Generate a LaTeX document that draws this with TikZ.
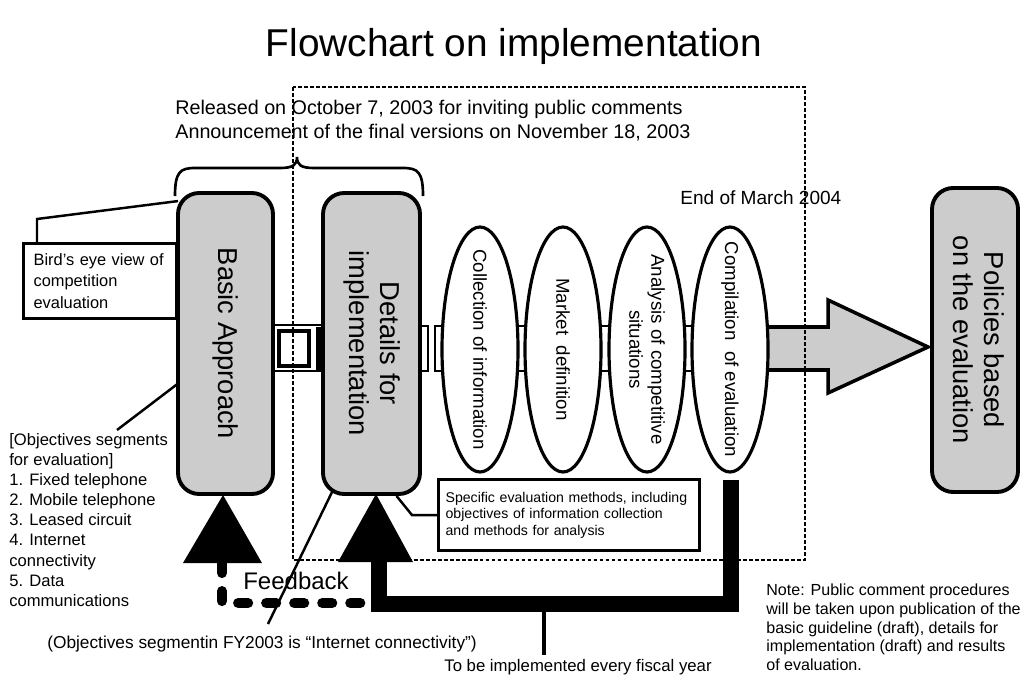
\documentclass[tikz,border=0pt]{standalone}
\usepackage{fontspec}
\setmainfont{Liberation Sans}
\usetikzlibrary{shapes.geometric,calc}
\def\pu{0.567pt}
\tikzset{
  bigbox/.style={draw, line width=2.2pt, rounded corners=12pt, fill=black!20, inner sep=0pt},
  ell/.style={ellipse, draw, line width=1.8pt, fill=white, minimum width=76*\pu, minimum height=245*\pu, inner sep=0pt},
  elltext/.style={rotate=-90, inner sep=0pt, align=center, font=\fontsize{10.6}{12.5}\selectfont},
  linkbox/.style={draw, line width=1.6pt, fill=white},
  dotbox/.style={line width=1.5pt, dash pattern=on 2.2pt off 1.2pt},
  thinline/.style={line width=1.4pt},
  notebox/.style={draw, line width=1.8pt, fill=white, align=left, anchor=north west},
  fbblack/.style={line width=8.8pt, line join=miter},
  fbdash/.style={line width=5.7pt, line cap=round, dash pattern=on 5.7pt off 10.2pt},
  bigarrow/.style={draw, line width=2pt, fill=black!20, line join=miter},
  plain/.style={inner sep=0pt},
}
\begin{document}
\begin{tikzpicture}[x=0.567pt,y=-0.567pt]
\useasboundingbox (0,0) rectangle (1027,676);

\node[plain, anchor=base, font=\fontsize{22}{26}\selectfont] (title) at (514,57) {Flowchart on implementation};

\node[plain, anchor=base west, font=\fontsize{11.2}{13}\selectfont] (rel1) at (175,115) {Released on October 7, 2003 for inviting public comments};
\node[plain, anchor=base west, font=\fontsize{11.2}{13}\selectfont] (rel2) at (175,138) {Announcement of the final versions on November 18, 2003};
\node[plain, anchor=base west, font=\fontsize{10.8}{13}\selectfont] (eom) at (680,204) {End of March 2004};

% big arrow towards policies
\draw[bigarrow] (740,327) -- (828,327) -- (828,300) -- (928,347) -- (828,393) -- (828,370) -- (740,370) -- cycle;

% link rectangles
\draw[line width=0.8pt, fill=white] (273,325) rectangle (322,371);
\draw[line width=1.8pt] (279,331) rectangle (309,366);
\fill (316,327) rectangle (335,370);
\draw[linkbox] (400,326) rectangle (428,371);
\draw[linkbox] (435,326) rectangle (480,371);
\draw[linkbox] (480,326) rectangle (563,371);
\draw[linkbox] (563,326) rectangle (647,371);
\draw[linkbox] (647,326) rectangle (730,371);

% dotted frame
\draw[dotbox] (293,87) rectangle (805,560);

% brace
\draw[line width=1.5pt] (175,196) .. controls (175,172) and (180,168) .. (195,168) -- (280,168) .. controls (293,168) and (297,165) .. (297,157) .. controls (297,165) and (301,168) .. (314,168) -- (403,168) .. controls (418,168) and (423,172) .. (423,196);

% main boxes
\node[bigbox, minimum width=95*\pu, minimum height=301*\pu, font=\fontsize{15.5}{17.5}\selectfont] (basic) at (225.5,343.5) {\rotatebox{-90}{Basic Approach}};
\node[bigbox, minimum width=97*\pu, minimum height=301*\pu, font=\fontsize{15.5}{17.5}\selectfont] (details) at (371.5,343.5) {\rotatebox{-90}{\begin{tabular}{@{}c@{}}Details for\\implementation\end{tabular}}};
\node[bigbox, minimum width=86*\pu, minimum height=304*\pu, font=\fontsize{15.5}{17.5}\selectfont] (pol) at (975,340) {\rotatebox{-90}{\begin{tabular}{@{}c@{}}Policies based\\on the evaluation\end{tabular}}};

% ellipses
\node[ell] (e1) at (480,349.5) {};
\node[ell] (e2) at (563,349.5) {};
\node[ell] (e3) at (647,349.5) {};
\node[ell] (e4) at (730,349.5) {};
\node[elltext] (t1) at (e1) {Collection of information};
\node[elltext] (t2) at (e2) {Market\ \ definition};
\node[elltext] (t3) at (e3) {Analysis of competitive\\situations};
\node[elltext] (t4) at (e4) {Compilation\ \ of evaluation};

% triangles
\fill (223,495) -- (262,563) -- (183,563) -- cycle;
\fill (376,494) -- (413,562) -- (338,562) -- cycle;

% feedback paths
\draw[fbblack] ($(e4.south)+(1,6)$) -- (731,604) -- (379,604) -- (379,560);
\draw[fbdash] (222,563) -- (222,603) -- (370,603);
\node[plain, font=\fontsize{13.6}{16}\selectfont] (fbk) at (296,581) {Feedback};

% bird's eye box
\node[notebox, text width=133*\pu, inner xsep=10*\pu, minimum height=75*\pu, font=\fontsize{9.3}{12}\selectfont] (bird) at (22,242) {Bird's eye view of\\competition\\evaluation};
\draw[thinline] ($(bird.north west)+(15,0)$) -- ++(0,-23) -- ($(basic.north west)+(2,10)$);

% objectives list
\node[plain, anchor=north west, align=left, font=\fontsize{9.4}{11.4}\selectfont] (obj) at (9,433) {[Objectives segments\\for evaluation]\\1. Fixed telephone\\2. Mobile telephone\\3. Leased circuit\\4. Internet\\connectivity\\5. Data\\communications};
\coordinate (objtip) at (117,430);
\draw[thinline] (objtip) -- ($(basic.west)+(2,40)$);

% specific methods box
\node[notebox, text width=247*\pu, inner xsep=7*\pu, minimum height=71*\pu, font=\fontsize{8}{9.3}\selectfont] (spec) at (437,478) {Specific evaluation methods, including\\objectives of information collection\\and methods for analysis};
\draw[thinline] (spec.west) -- ++(-25,0) -- ($(details.south)+(25,0)$);

% FY2003 remark
\node[plain, font=\fontsize{9.8}{12}\selectfont] (seg) at (262,644) {(Objectives segmentin FY2003 is ``Internet connectivity'')};
\coordinate (segtip) at (268,624);
\draw[thinline] (segtip) -- ($(details.south west)+(11,-4)$);

% every fiscal year
\node[plain, font=\fontsize{9.5}{11}\selectfont] (fiscal) at (578,667) {To be implemented every fiscal year};
\coordinate (fyj) at (544,604);
\draw[line width=2.2pt] (fiscal.north -| fyj) ++(0,-4) -- (fyj);

% note
\node[plain, anchor=north west, align=left, font=\fontsize{9.1}{10.5}\selectfont] (note) at (766,584) {Note: Public comment procedures\\will be taken upon publication of the\\basic guideline (draft), details for\\implementation (draft) and results\\of evaluation.};
\end{tikzpicture}
\end{document}
